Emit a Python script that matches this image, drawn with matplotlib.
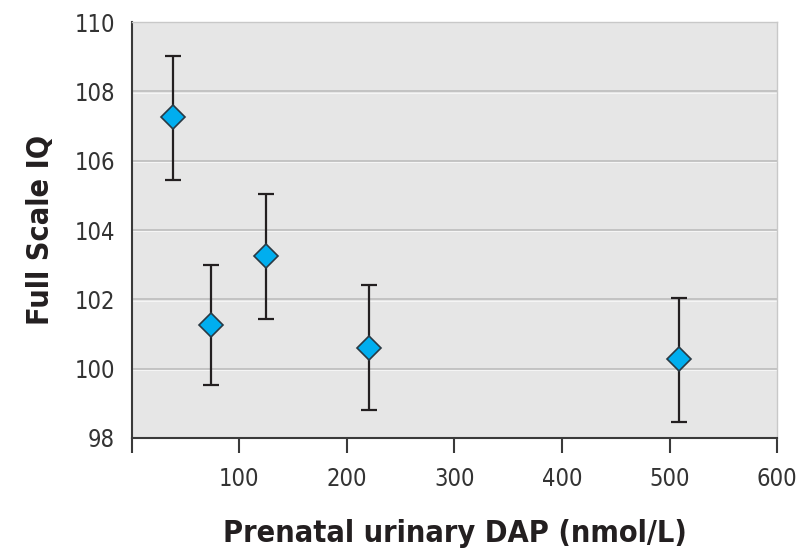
import matplotlib
matplotlib.use("Agg")
import matplotlib.pyplot as plt

plt.rcParams['font.family'] = ['Liberation Sans Narrow', 'DejaVu Sans']
plt.rcParams['font.stretch'] = 'condensed'

# Data
dap = [38, 74, 125, 221, 509]
iq = [107.25, 101.25, 103.25, 100.6, 100.27]
iq_low = [105.45, 99.52, 101.43, 98.8, 98.45]
iq_high = [109.02, 102.98, 105.05, 102.42, 102.05]

x_ticks = [0, 100, 200, 300, 400, 500, 600]
x_ticklabels = ['', '100', '200', '300', '400', '500', '600']
y_ticks = [98, 100, 102, 104, 106, 108, 110]

fig = plt.figure(figsize=(7.98, 5.53), dpi=100)
ax = fig.add_axes([0.165, 0.208, 0.809, 0.752])
ax.set_facecolor('#e6e6e6')

err = [[v - lo for v, lo in zip(iq, iq_low)], [hi - v for v, hi in zip(iq, iq_high)]]
ax.errorbar(dap, iq, yerr=err, fmt='none', ecolor='#231f20', elinewidth=1.6,
            capsize=6, capthick=1.6, zorder=3)
ax.plot(dap, iq, linestyle='none', marker='D', markersize=12,
        markerfacecolor='#00aeef', markeredgecolor='#2a3a44', markeredgewidth=1.2, zorder=4)

ax.set_xlim(0, 600)
ax.set_ylim(98, 110)
ax.set_xticks(x_ticks)
ax.set_xticklabels(x_ticklabels)
ax.set_yticks(y_ticks)

for y in y_ticks[1:-1]:
    ax.axhline(y, color='#bdbdbd', linewidth=1.2, zorder=1)
    ax.axhline(y - 0.04, color='#f5f5f5', linewidth=0.8, zorder=1)

for side in ['top', 'right']:
    ax.spines[side].set_color('#c8c8c8')
    ax.spines[side].set_linewidth(1.0)
ax.spines['left'].set_color('#3a3a3a')
ax.spines['left'].set_linewidth(1.5)
ax.spines['bottom'].set_color('#3a3a3a')
ax.spines['bottom'].set_linewidth(1.5)

ax.tick_params(axis='x', direction='out', length=11, width=1.5, color='#3a3a3a',
               labelsize=17, labelcolor='#333333', pad=10)
ax.tick_params(axis='y', length=0, labelsize=17, labelcolor='#333333', pad=12)
for lbl in ax.get_xticklabels() + ax.get_yticklabels():
    lbl.set_fontweight('medium')

ax.set_xlabel('Prenatal urinary DAP (nmol/L)', fontsize=22, fontweight='bold',
              color='#231f20', labelpad=20)
ax.set_ylabel('Full Scale IQ', fontsize=22, fontweight='bold', color='#231f20', labelpad=14)

fig.savefig('out.png', dpi=100)
